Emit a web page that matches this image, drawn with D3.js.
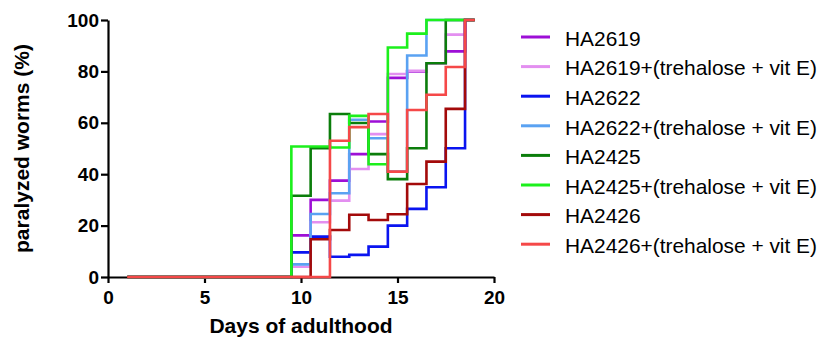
<!DOCTYPE html>
<html>
<head>
<meta charset="utf-8">
<script src="https://cdn.jsdelivr.net/npm/d3@7"></script>
<style>
    body { margin: 0; background: #fff; }
    svg { display: block; }
    .axis path, .axis line { stroke: #000; stroke-width: 2.2px; }
    .axis text { font-family: "Liberation Sans", Arial, sans-serif; font-weight: bold; font-size: 19px; fill: #000; }
    .title { font-family: "Liberation Sans", Arial, sans-serif; font-weight: bold; font-size: 21px; fill: #000; }
    .legend text { font-family: "Liberation Sans", Arial, sans-serif; font-size: 20.9px; fill: #000; }
</style>
</head>
<body>
<svg id="chart" width="818" height="338"></svg>
<script>
// days of adulthood, one point per day
var days = [1, 2, 3, 4, 5, 6, 7, 8, 9, 10, 11, 12, 13, 14, 15, 16, 17, 18, 19];

// % paralyzed worms per strain
var ha2619      = [0, 0, 0, 0, 0, 0, 0, 0, 0, 16.2, 30.0, 37.5, 47.8, 60.5, 77.5, 80.0, 83.0, 87.8, 100];
var ha2619Treat = [0, 0, 0, 0, 0, 0, 0, 0, 0, 4.0, 21.3, 29.7, 42.0, 55.6, 79.0, 80.2, 83.0, 94.3, 100];
var ha2622      = [0, 0, 0, 0, 0, 0, 0, 0, 0, 9.6, 15.7, 7.9, 8.6, 11.8, 20.0, 26.5, 34.9, 50.1, 100];
var ha2622Treat = [0, 0, 0, 0, 0, 0, 0, 0, 0, 4.9, 24.5, 32.6, 61.2, 54.0, 41.0, 86.2, 100, 100, 100];
var ha2425      = [0, 0, 0, 0, 0, 0, 0, 0, 0, 31.6, 50.1, 63.4, 59.9, 47.8, 38.1, 50.1, 83.2, 100, 100];
var ha2425Treat = [0, 0, 0, 0, 0, 0, 0, 0, 0, 50.8, 50.8, 50.4, 62.7, 43.9, 89.3, 94.7, 100, 100, 100];
var ha2426      = [0, 0, 0, 0, 0, 0, 0, 0, 0, 0, 14.7, 18.3, 24.2, 22.2, 24.4, 36.2, 44.9, 65.4, 100];
var ha2426Treat = [0, 0, 0, 0, 0, 0, 0, 0, 0, 0, 0, 53.0, 58.3, 63.4, 41.0, 65.0, 70.9, 81.7, 100];

var seriesNames = ['HA2619', 'HA2619+(trehalose + vit E)', 'HA2622', 'HA2622+(trehalose + vit E)',
    'HA2425', 'HA2425+(trehalose + vit E)', 'HA2426', 'HA2426+(trehalose + vit E)'];
var seriesValues = [ha2619, ha2619Treat, ha2622, ha2622Treat, ha2425, ha2425Treat, ha2426, ha2426Treat];
var seriesColors = ['#9d0fd6', '#e38ff0', '#0a14f0', '#5aa2f2', '#0b7d0b', '#1cf01c', '#a30a0a', '#f54848'];

var xTicks = [0, 5, 10, 15, 20];
var yTicks = [0, 20, 40, 60, 80, 100];

var margin = {top: 20, right: 324, bottom: 61, left: 108},
    width = 818 - margin.left - margin.right,
    height = 338 - margin.top - margin.bottom;

var svg = d3.select('#chart');
var g = svg.append('g').attr('transform', 'translate(' + margin.left + ',' + margin.top + ')');

var x = d3.scaleLinear().domain([0, 20]).range([0, width]),
    y = d3.scaleLinear().domain([0, 100]).range([height, 0]);

g.append('g')
    .attr('class', 'axis')
    .attr('transform', 'translate(0,' + height + ')')
    .call(d3.axisBottom(x).tickValues(xTicks).tickSize(6).tickSizeOuter(0).tickPadding(8));

g.append('g')
    .attr('class', 'axis')
    .call(d3.axisLeft(y).tickValues(yTicks).tickSize(7).tickSizeOuter(0).tickPadding(2));

var line = d3.line()
    .curve(d3.curveStep)
    .x(function (d, i) { return x(days[i]); })
    .y(function (d) { return y(d); });

g.selectAll('path.series')
    .data(seriesValues)
    .enter().append('path')
    .attr('class', 'series')
    .attr('fill', 'none')
    .attr('stroke', function (d, i) { return seriesColors[i]; })
    .attr('stroke-width', 2.6)
    .attr('d', line);

// axis titles
svg.append('text')
    .attr('class', 'title')
    .attr('x', margin.left + width / 2)
    .attr('y', 333)
    .attr('text-anchor', 'middle')
    .text('Days of adulthood');

svg.append('text')
    .attr('class', 'title')
    .attr('transform', 'translate(28.5,' + (margin.top + height / 2) + ') rotate(-90)')
    .attr('text-anchor', 'middle')
    .text('paralyzed worms (%)');

// legend
var legend = svg.append('g').attr('class', 'legend').attr('transform', 'translate(521,37)');
var rows = legend.selectAll('g')
    .data(seriesNames)
    .enter().append('g')
    .attr('transform', function (d, i) { return 'translate(0,' + (i * 29.6) + ')'; });

rows.append('line')
    .attr('x1', 0).attr('x2', 29)
    .attr('stroke', function (d, i) { return seriesColors[i]; })
    .attr('stroke-width', 3);

rows.append('text')
    .attr('x', 44)
    .attr('y', 1.5)
    .attr('dy', '0.35em')
    .text(function (d) { return d; });
</script>
</body>
</html>
